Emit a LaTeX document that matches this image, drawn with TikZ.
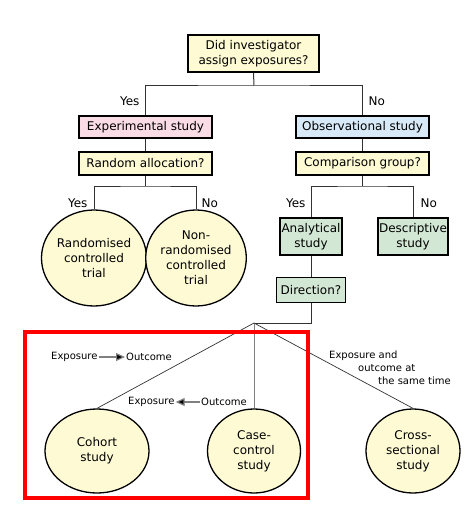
\documentclass[tikz,border=0pt]{standalone}
\usepackage{fontspec}
\setmainfont{DejaVu Sans}
\usetikzlibrary{arrows.meta,shapes.geometric}

\definecolor{qyellow}{HTML}{FDFAD4}
\definecolor{epink}{HTML}{FADCE6}
\definecolor{oblue}{HTML}{D8EAF7}
\definecolor{agreen}{HTML}{D3E7D5}
\definecolor{lgray}{HTML}{333333}

\begin{document}
\begin{tikzpicture}[x=1pt, y=-1pt,
	every node/.style={font=\fontsize{12}{15}\selectfont, text=black},
	box/.style={draw=black, line width=1.3pt, fill=qyellow, inner sep=1pt, align=center},
	oval/.style={ellipse, draw=black, line width=1.3pt, fill=qyellow, inner sep=0pt, align=center},
	link/.style={draw=lgray, line width=1pt},
	small/.style={font=\fontsize{10}{13}\selectfont, inner sep=1pt},
	dirarrow/.style={draw=gray, line width=1.2pt, -{Triangle[length=9pt, width=8pt, fill=black]}}]
	\useasboundingbox (0,0) rectangle (469,508);
	% questions and study types
	\node[box, minimum width=131, minimum height=37] (assign) at (253.5,53.5) {Did investigator\\assign exposures?};
	\node[box, fill=epink, minimum width=133, minimum height=22] (exper) at (145.5,127) {Experimental study};
	\node[box, fill=oblue, minimum width=133, minimum height=22] (obser) at (362.5,127) {Observational study};
	\node[box, minimum width=133, minimum height=23] (random) at (145.5,163.5) {Random allocation?};
	\node[box, minimum width=133, minimum height=23] (compare) at (362.5,163.5) {Comparison group?};
	\node[oval, minimum width=92, minimum height=96] (rct) at (94,258) {Randomised\\controlled\\trial};
	\node[oval, minimum width=95, minimum height=96] (nrct) at (196,258) {Non-\\randomised\\controlled\\trial};
	\node[box, fill=agreen, minimum width=62, minimum height=37] (analyt) at (311,236.5) {Analytical\\study};
	\node[box, fill=agreen, minimum width=70, minimum height=37] (descr) at (413,236.5) {Descriptive\\study};
	\node[box, fill=agreen, minimum width=69, minimum height=25] (direct) at (311,290) {Direction?};
	\node[oval, minimum width=104, minimum height=84] (cohort) at (97,451) {Cohort\\study};
	\node[oval, minimum width=93, minimum height=84] (casec) at (254,451) {Case-\\control\\study};
	\node[oval, minimum width=94, minimum height=84] (cross) at (413,451) {Cross-\\sectional\\study};

	% branches
	\coordinate (j1) at (254,86);
	\coordinate (j2) at (145.5,186);
	\coordinate (j3) at (362.5,186);
	\coordinate (j4) at (254,323);
	\draw[link] (assign.south) -- (j1);
	\draw[link] (exper.north) |- (j1) -| (obser.north);
	\draw[link] (exper) -- (random);
	\draw[link] (obser) -- (compare);
	\draw[link] (random.south) -- (j2);
	\draw[link] (rct.north) |- (j2) -| (nrct.north);
	\draw[link] (compare.south) -- (j3);
	\draw[link] (analyt.north) |- (j3) -| (descr.north);
	\draw[link] (analyt) -- (direct);
	\draw[link] (direct.south) |- (j4);
	\draw[draw=lgray, line width=0.7pt] (j4) -- (cohort.north);
	\draw[draw=gray, line width=1pt] (j4) -- (casec.north);
	\draw[draw=lgray, line width=0.7pt] (j4) -- (cross.north);

	\node[anchor=east] (yes1) at (143,101) {Yes};
	\node[anchor=west] (no1) at (365,101) {No};
	\node[anchor=east] (yes2) at (91,203) {Yes};
	\node[anchor=west] (no2) at (198,203) {No};
	\node[anchor=east] (yes3) at (309,203) {Yes};
	\node[anchor=west] (no3) at (417,203) {No};

	% directions
	\node[small, anchor=west] (expo1) at (50,357) {Exposure};
	\node[small, anchor=west] (outc1) at (125,357) {Outcome};
	\draw[dirarrow] (expo1) -- (outc1);
	\node[small, anchor=west] (expo2) at (127,402) {Exposure};
	\node[small, anchor=west] (outc2) at (200,402) {Outcome};
	\draw[dirarrow] (outc2) -- (expo2);
	\node[small, anchor=north west, align=left] (same) at (328,350) {Exposure and\\\hspace*{29pt}outcome at\\\hspace*{49pt}the same time};

	\draw[red, line width=3.5pt] (25,332) rectangle (308,498);
\end{tikzpicture}
\end{document}
